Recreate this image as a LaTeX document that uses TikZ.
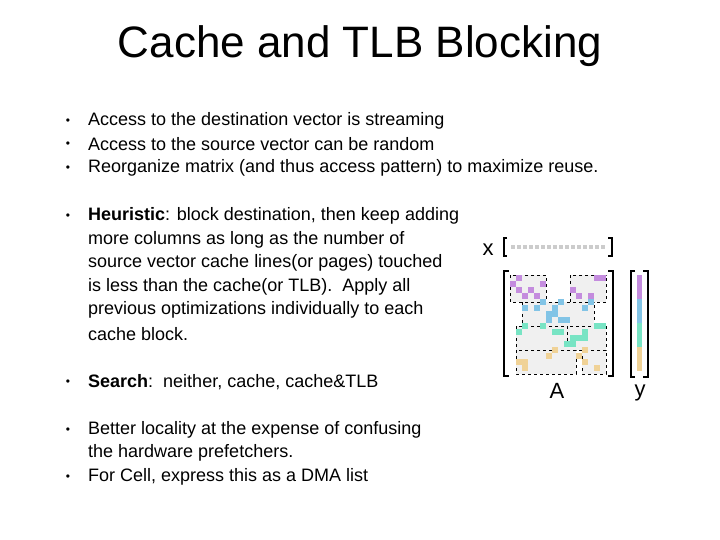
\documentclass[tikz,border=0pt]{standalone}
\usepackage{fontspec}
\setmainfont{Liberation Sans}
\begin{document}
\begin{tikzpicture}[x=1pt,y=-1pt,
  txt/.style={anchor=west,inner sep=0pt,font=\fontsize{18}{21}\selectfont},
  bul/.style={anchor=center,inner sep=0pt,font=\fontsize{12}{14}\selectfont},
  blk/.style={draw,dashed,fill=gray!12,line width=0.6pt},
  brk/.style={line width=2.2pt},
  sq/.style={inner sep=0pt,minimum size=5.4pt}]
\useasboundingbox (0,0) rectangle (720,540);
\definecolor{pu}{RGB}{196,140,222}
\definecolor{bl}{RGB}{130,196,230}
\definecolor{te}{RGB}{120,228,196}
\definecolor{or}{RGB}{240,210,150}
\node[inner sep=0pt,font=\fontsize{44}{50}\selectfont] (title) at (360,46) {Cache and TLB Blocking};
\foreach \y/\t [count=\i] in {121/{Access to the destination vector is streaming},144/{Access to the source vector can be random},168/{Reorganize matrix (and thus access pattern) to maximize reuse.},216/{\textbf{Heuristic}: block destination, then keep adding},240/{more columns as long as the number of},263/{source vector cache lines(or pages) touched},287/{is less than the cache(or TLB).\ \ Apply all},310/{previous optimizations individually to each},334/{cache block.},382/{\textbf{Search}:\ \ neither, cache, cache\&TLB},430/{Better locality at the expense of confusing},453/{the hardware prefetchers.},477/{For Cell, express this as a DMA list}}
  \node[txt] (t\i) at (88,\y) {\t};
\foreach \y [count=\i] in {121,144,168,216,382,430,477}
  \node[bul] (b\i) at (68,\y+1) {\textbullet};
% grid origin
\def\ox{510}\def\oy{275}
\foreach \a/\b/\c/\d [count=\i] in {0/0/6/4.5,10/0/16/4.5,2/4.5/14/8.5,1/8.5/9.5/12.5,9.5/8.5/16/12.5,1/12.5/11/16.5,12/12.5/16/16.5}
  \draw[blk] (\ox+6*\a,\oy+6*\b) rectangle (\ox+6*\c,\oy+6*\d);
\foreach \c/\r in {1/0,0/1,1/2,3/2,5/1,2/3,4/3,14/0,15/0,10/2,11/3,13/3}
  \node[sq,fill=pu] at (\ox+6*\c+3,\oy+6*\r+3) {};
\foreach \c/\r in {5/4,8/4,13/4,2/5,4/5,7/5,12/5,6/6,7/6,6/7,8/7,9/7}
  \node[sq,fill=bl] at (\ox+6*\c+3,\oy+6*\r+3) {};
\foreach \c/\r in {2/8,5/8,14/8,15/8,1/9,7/9,8/9,12/9,10/10,11/10,12/10,9/11,10/11}
  \node[sq,fill=te] at (\ox+6*\c+3,\oy+6*\r+3) {};
\foreach \c/\r in {7/12,12/12,6/13,11/13,1/14,2/14,12/14,2/15,14/15}
  \node[sq,fill=or] at (\ox+6*\c+3,\oy+6*\r+3) {};
% brackets A
\draw[brk] (509,271) -- (504,271) -- (504,376) -- (509,376);
\draw[brk] (608,271) -- (613,271) -- (613,376) -- (608,376);
% x vector
\draw[brk] (507,238) -- (504,238) -- (504,256) -- (507,256);
\draw[brk] (608,238) -- (612,238) -- (612,256) -- (608,256);
\foreach \i in {0,...,15} \node[sq,fill=gray!40,minimum size=4pt] at (\ox+6*\i+3,247) {};
% y vector
\draw[brk] (635,271) -- (631,271) -- (631,377) -- (635,377);
\draw[brk] (643,271) -- (648,271) -- (648,377) -- (643,377);
\foreach \i in {0,...,15}{
  \pgfmathsetmacro\k{int(\i/4)}
  \ifcase\k\def\cc{pu}\or\def\cc{bl}\or\def\cc{te}\else\def\cc{or}\fi
  \node[sq,fill=\cc] at (639.5,\oy+3+6*\i) {};}
\node[inner sep=0pt,font=\fontsize{22}{26}\selectfont] (xl) at (488,250) {x};
\node[inner sep=0pt,font=\fontsize{22}{26}\selectfont] (al) at (557,391) {A};
\node[inner sep=0pt,font=\fontsize{22}{26}\selectfont] (yl) at (640,393) {y};
\end{tikzpicture}
\end{document}
